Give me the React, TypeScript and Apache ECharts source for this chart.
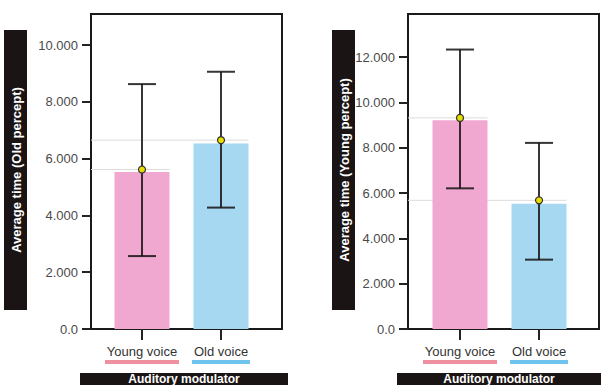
import React, { useEffect, useRef } from "react";
import * as echarts from "echarts";

// ---- data ----
const categories = ["Young voice", "Old voice"];

// Left panel: Old percept
const oldPerceptBar = [5535, 6537];
const oldPerceptMean = [5620, 6654];
const oldPerceptUpper = [8630, 9065];
const oldPerceptLower = [2570, 4278];

// Right panel: Young percept
const youngPerceptBar = [9210, 5532];
const youngPerceptMean = [9316, 5678];
const youngPerceptUpper = [12331, 8212];
const youngPerceptLower = [6207, 3060];

const leftTicks = [0, 2000, 4000, 6000, 8000, 10000];
const rightTicks = [0, 2000, 4000, 6000, 8000, 10000, 12000];
const leftMax = 11100;
const rightMax = 13900;

const titles = ["Average time (Old percept)", "Average time (Young percept)"];
const xTitle = "Auditory modulator";

// ---- styles ----
const barColors = ["#f0a8d0", "#a6d8f2"];
const underlineColors = ["#ee909f", "#6fc4ee"];
const underlineWidths = [74, 58];
const FONT = "'Liberation Sans', Arial, Helvetica, sans-serif";
const BAR_W = 55;
const CAP_W = 28;

const fmtY = (v: number) => (v === 0 ? "0.0" : (v / 1000).toFixed(3));

function panelSeries(
  idx: number,
  bar: number[],
  mean: number[],
  upper: number[],
  lower: number[]
): any[] {
  const errData = categories.map((_, i) => [i, lower[i], upper[i], mean[i]]);
  return [
    {
      type: "custom",
      xAxisIndex: idx,
      yAxisIndex: idx,
      z: 1,
      data: categories.map((_, i) => [i, mean[i]]),
      renderItem: (params: any, api: any) => {
        const p = api.coord([api.value(0), api.value(1)]);
        const cs = params.coordSys;
        return {
          type: "line",
          shape: { x1: cs.x, y1: p[1], x2: p[0] + BAR_W / 2, y2: p[1] },
          style: { stroke: "#dcdcdc", lineWidth: 1 },
        };
      },
    },
    {
      type: "bar",
      xAxisIndex: idx,
      yAxisIndex: idx,
      z: 2,
      barWidth: BAR_W,
      data: bar.map((v, i) => ({ value: [i, v], itemStyle: { color: barColors[i] } })),
    },
    {
      type: "custom",
      xAxisIndex: idx,
      yAxisIndex: idx,
      z: 3,
      data: errData,
      renderItem: (params: any, api: any) => {
        const x = api.value(0);
        const lo = api.coord([x, api.value(1)]);
        const hi = api.coord([x, api.value(2)]);
        const m = api.coord([x, api.value(3)]);
        const stroke = "rgba(22,20,20,0.86)";
        return {
          type: "group",
          children: [
            { type: "line", shape: { x1: lo[0], y1: lo[1], x2: hi[0], y2: hi[1] }, style: { stroke, lineWidth: 2 } },
            { type: "line", shape: { x1: hi[0] - CAP_W / 2, y1: hi[1], x2: hi[0] + CAP_W / 2, y2: hi[1] }, style: { stroke, lineWidth: 2 } },
            { type: "line", shape: { x1: lo[0] - CAP_W / 2, y1: lo[1], x2: lo[0] + CAP_W / 2, y2: lo[1] }, style: { stroke, lineWidth: 2 } },
            { type: "circle", shape: { cx: m[0], cy: m[1], r: 3.5 }, style: { fill: "#e8df00", stroke: "#333", lineWidth: 1.2 } },
          ],
        };
      },
    },
    {
      type: "custom",
      xAxisIndex: idx,
      yAxisIndex: idx,
      z: 3,
      clip: false,
      data: categories.map((_, i) => [i, 0]),
      renderItem: (params: any, api: any) => {
        const i = params.dataIndex;
        const p = api.coord([api.value(0), 0]);
        const w = underlineWidths[i];
        return {
          type: "rect",
          shape: { x: p[0] - w / 2, y: p[1] + 31, width: w, height: 4 },
          style: { fill: underlineColors[i] },
        };
      },
    },
  ];
}

function xAxis(idx: number, min: number, max: number): any {
  return {
    type: "value",
    gridIndex: idx,
    min,
    max,
    axisLine: { show: false, onZero: false },
    splitLine: { show: false },
    axisTick: {
      show: true,
      customValues: [0, 1],
      length: 11,
      lineStyle: { color: "#222", width: 2 },
    },
    axisLabel: {
      show: true,
      customValues: [0, 1],
      formatter: (v: number) => categories[Math.round(v)] ?? "",
      margin: 16,
      fontSize: 13,
      color: "#333",
      fontFamily: FONT,
    },
  };
}

function yAxis(idx: number, max: number, ticks: number[]): any {
  return {
    type: "value",
    gridIndex: idx,
    min: 0,
    max,
    axisLine: { show: true, onZero: false, lineStyle: { color: "#1a1a1a", width: 2 } },
    splitLine: { show: false },
    axisTick: {
      show: true,
      customValues: ticks,
      length: 9,
      lineStyle: { color: "#222", width: 2 },
    },
    axisLabel: {
      show: true,
      customValues: ticks,
      formatter: fmtY,
      margin: 13,
      fontSize: 13,
      color: "#4a4a4a",
      fontFamily: FONT,
    },
  };
}

function titleBlocks(): any[] {
  const dark = "#1b1414";
  const txt = (x: number, y: number, text: string, rot: number, size: number) => ({
    type: "text",
    x,
    y,
    rotation: rot,
    z: 11,
    style: {
      text,
      fill: "#fff",
      font: `bold ${size}px ${FONT}`,
      align: "center",
      verticalAlign: "middle",
    },
  });
  return [
    { type: "rect", shape: { x: 4, y: 30, width: 23, height: 280 }, style: { fill: dark }, z: 10 },
    txt(16, 170, titles[0], Math.PI / 2, 13),
    { type: "rect", shape: { x: 332, y: 30, width: 23, height: 280 }, style: { fill: dark }, z: 10 },
    txt(344, 170, titles[1], Math.PI / 2, 13),
    { type: "rect", shape: { x: 80, y: 373, width: 208, height: 20 }, style: { fill: dark }, z: 10 },
    txt(184, 379, xTitle, 0, 12),
    { type: "rect", shape: { x: 397, y: 373, width: 210, height: 20 }, style: { fill: dark }, z: 10 },
    txt(499, 379, xTitle, 0, 12),
  ];
}

export default function App() {
  const ref = useRef<HTMLDivElement>(null);
  useEffect(() => {
    if (!ref.current) return;
    const chart = echarts.init(ref.current, null, { renderer: "svg" });
    const gridStyle = { show: true, borderColor: "#1a1a1a", borderWidth: 2, backgroundColor: "transparent" };
    chart.setOption({
      animation: false,
      backgroundColor: "#fff",
      textStyle: { fontFamily: FONT },
      grid: [
        { ...gridStyle, left: 91, top: 14, width: 191, height: 315 },
        { ...gridStyle, left: 408, top: 14, width: 191, height: 315 },
      ],
      xAxis: [xAxis(0, -0.6456, 1.772), xAxis(1, -0.658, 1.759)],
      yAxis: [yAxis(0, leftMax, leftTicks), yAxis(1, rightMax, rightTicks)],
      series: [
        ...panelSeries(0, oldPerceptBar, oldPerceptMean, oldPerceptUpper, oldPerceptLower),
        ...panelSeries(1, youngPerceptBar, youngPerceptMean, youngPerceptUpper, youngPerceptLower),
      ],
      graphic: titleBlocks(),
    });
    return () => chart.dispose();
  }, []);
  return (
    <div
      ref={ref}
      style={{ position: "fixed", left: 0, top: 0, width: 601, height: 385 }}
    />
  );
}
